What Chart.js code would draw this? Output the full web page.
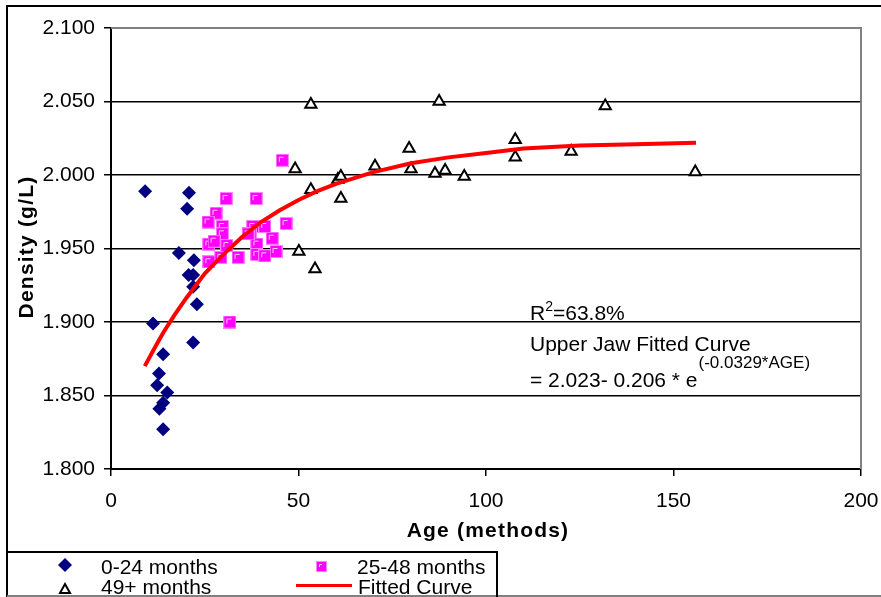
<!DOCTYPE html>
<html>
<head>
<meta charset="utf-8">
<script src="https://cdn.jsdelivr.net/npm/chart.js@4/dist/chart.umd.min.js"></script>
<style>
  html, body { margin: 0; padding: 0; background: #fff; }
  #wrap { width: 881px; height: 597px; }
</style>
</head>
<body>
<div id="wrap"><canvas id="chart" width="881" height="597"></canvas></div>
<script>
// 0-24 months
const youngAge = [9.1, 20.8, 20.3, 18.1, 22.1, 20.7, 21.9, 21.9, 22.9, 11.2, 21.9, 13.9, 12.8, 12.3, 15.0, 13.9, 12.9, 13.9];
const youngDensity = [1.989, 1.988, 1.977, 1.947, 1.942, 1.932, 1.932, 1.924, 1.912, 1.899, 1.886, 1.878, 1.865, 1.857, 1.852, 1.845, 1.841, 1.827];

// 25-48 months
const midAge = [45.7, 30.7, 38.7, 28.0, 25.9, 29.7, 37.8, 41.0, 46.7, 37.1, 29.7, 43.0, 26.1, 27.5, 30.9, 38.9, 44.0, 38.9, 41.0, 29.3, 33.9, 26.1, 31.7, 36.6];
const midDensity = [2.010, 1.984, 1.984, 1.974, 1.968, 1.965, 1.965, 1.965, 1.967, 1.960, 1.960, 1.957, 1.953, 1.955, 1.952, 1.953, 1.948, 1.946, 1.945, 1.944, 1.944, 1.941, 1.900, 1.960];

// 49+ months
const oldAge = [53.3, 87.5, 49.1, 53.3, 60.5, 61.3, 61.3, 70.4, 79.5, 80.0, 86.4, 89.1, 94.2, 107.8, 107.8, 50.1, 54.4, 131.8, 122.7, 155.8];
const oldDensity = [2.048, 2.050, 2.004, 1.990, 1.997, 1.999, 1.984, 2.006, 2.018, 2.004, 2.001, 2.003, 1.999, 2.024, 2.012, 1.948, 1.936, 2.047, 2.016, 2.002];

// fitted curve
const curveAge = [9, 12, 14, 17, 20, 25, 30, 35, 40, 45, 50, 55, 60, 70, 80, 90, 100, 110, 125, 140, 156];
const curveDensity = [1.870, 1.884, 1.893, 1.905, 1.916, 1.933, 1.946, 1.958, 1.968, 1.976, 1.983, 1.989, 1.994, 2.002, 2.008, 2.012, 2.015, 2.018, 2.020, 2.021, 2.022];

const xTickValues = [0, 50, 100, 150, 200];
const yTickValues = [1.8, 1.85, 1.9, 1.95, 2.0, 2.05, 2.1];

const font = '"Liberation Sans", Arial, sans-serif';

function toPoints(xs, ys) {
  return xs.map((x, i) => ({ x: x, y: ys[i] }));
}

// square marker with the little white corner highlight
function makeSquare(size) {
  const c = document.createElement("canvas");
  c.width = size;
  c.height = size;
  const g = c.getContext("2d");
  g.fillStyle = "#ff00ff";
  g.fillRect(0, 0, size, size);
  g.strokeStyle = "#ff80ff";
  g.lineWidth = 1;
  g.strokeRect(0.5, 0.5, size - 1, size - 1);
  g.strokeStyle = "#ffd0ff";
  g.beginPath();
  g.moveTo(3.5, size - 5);
  g.lineTo(3.5, 3.5);
  g.lineTo(size - 5, 3.5);
  g.stroke();
  return c;
}
const squareBig = makeSquare(13);
const squareSmall = makeSquare(11);

function noOverhang(s) {
  s.paddingLeft = 0;
  s.paddingRight = 0;
  s.paddingTop = 0;
  s.paddingBottom = 0;
}

const frame = {
  id: "frame",
  beforeDraw(chart) {
    const ctx = chart.ctx;
    ctx.save();
    ctx.fillStyle = "#fff";
    ctx.fillRect(0, 0, chart.width, chart.height);
    ctx.restore();
  },
  afterDraw(chart) {
    const ctx = chart.ctx;
    const area = chart.chartArea;
    ctx.save();

    // plot border (top + right), grey
    ctx.strokeStyle = "#808080";
    ctx.lineWidth = 2;
    ctx.beginPath();
    ctx.moveTo(area.left, area.top);
    ctx.lineTo(area.right, area.top);
    ctx.lineTo(area.right, area.bottom);
    ctx.stroke();

    // outer frame
    ctx.strokeStyle = "#000";
    ctx.lineWidth = 2;
    ctx.beginPath();
    ctx.moveTo(7, 598);
    ctx.lineTo(7, 6);
    ctx.lineTo(884, 6);
    ctx.stroke();
    ctx.strokeStyle = "#808080";
    ctx.beginPath();
    ctx.moveTo(7, 596);
    ctx.lineTo(884, 596);
    ctx.stroke();

    // axis titles
    ctx.fillStyle = "#000";
    ctx.font = "bold 21px " + font;
    ctx.letterSpacing = "1.2px";
    ctx.textAlign = "center";
    ctx.textBaseline = "middle";
    ctx.fillText("Age (methods)", 488, 531);
    ctx.save();
    ctx.translate(27, 247);
    ctx.rotate(-Math.PI / 2);
    ctx.fillText("Density (g/L)", 0, 0);
    ctx.restore();
    ctx.letterSpacing = "0px";

    // fit annotation
    ctx.font = "21px " + font;
    ctx.textAlign = "left";
    ctx.textBaseline = "alphabetic";
    ctx.fillText("R", 530, 320);
    let w = ctx.measureText("R").width;
    ctx.font = "14px " + font;
    ctx.fillText("2", 530 + w, 311);
    let w2 = ctx.measureText("2").width;
    ctx.font = "21px " + font;
    ctx.fillText("=63.8%", 530 + w + w2, 320);
    ctx.fillText("Upper Jaw Fitted Curve", 530, 351);
    const eq = "= 2.023- 0.206 * e";
    ctx.fillText(eq, 530, 387);
    w = ctx.measureText(eq).width;
    ctx.font = "17px " + font;
    ctx.fillText("(-0.0329*AGE)", 530 + w + 1, 368);

    // legend box
    ctx.strokeStyle = "#000";
    ctx.lineWidth = 2;
    ctx.beginPath();
    ctx.moveTo(7, 552);
    ctx.lineTo(497, 552);
    ctx.lineTo(497, 600);
    ctx.stroke();

    ctx.fillStyle = "#000080";
    ctx.beginPath();
    ctx.moveTo(65, 558); ctx.lineTo(72, 565); ctx.lineTo(65, 572); ctx.lineTo(58, 565);
    ctx.closePath();
    ctx.fill();

    ctx.drawImage(squareSmall, 316, 561);

    ctx.strokeStyle = "#000";
    ctx.lineWidth = 2;
    ctx.beginPath();
    ctx.moveTo(65, 584); ctx.lineTo(70, 593); ctx.lineTo(60, 593);
    ctx.closePath();
    ctx.stroke();

    ctx.strokeStyle = "#ff0000";
    ctx.lineWidth = 3;
    ctx.beginPath();
    ctx.moveTo(296, 585.5);
    ctx.lineTo(352, 585.5);
    ctx.stroke();

    ctx.fillStyle = "#000";
    ctx.font = "21px " + font;
    ctx.fillText("0-24 months", 101, 574);
    ctx.fillText("25-48 months", 357, 574);
    ctx.fillText("49+ months", 101, 594);
    ctx.fillText("Fitted Curve", 358, 594);

    ctx.restore();
  }
};

new Chart(document.getElementById("chart"), {
  type: "scatter",
  data: {
    datasets: [
      {
        label: "0-24 months",
        data: toPoints(youngAge, youngDensity),
        pointStyle: "rectRot",
        pointRadius: 7,
        pointBackgroundColor: "#000080",
        pointBorderColor: "#000080",
        pointBorderWidth: 0,
        order: 2
      },
      {
        label: "25-48 months",
        data: toPoints(midAge, midDensity),
        pointStyle: squareBig,
        pointRadius: 6,
        order: 3
      },
      {
        label: "49+ months",
        data: toPoints(oldAge, oldDensity),
        pointStyle: "triangle",
        pointRadius: 6.5,
        pointBackgroundColor: "#ffffff",
        pointBorderColor: "#000000",
        pointBorderWidth: 2,
        order: 1
      },
      {
        label: "Fitted Curve",
        type: "line",
        data: toPoints(curveAge, curveDensity),
        borderColor: "#ff0000",
        borderWidth: 4,
        pointRadius: 0,
        tension: 0,
        fill: false,
        order: 0
      }
    ]
  },
  options: {
    responsive: false,
    animation: false,
    devicePixelRatio: 1,
    layout: { padding: { top: 28, right: 20, left: 0, bottom: 0 } },
    plugins: {
      legend: { display: false },
      tooltip: { enabled: false }
    },
    scales: {
      x: {
        type: "linear",
        min: 0,
        max: 200,
        afterFit: (s) => { s.height = 128; noOverhang(s); },
        afterBuildTicks: (s) => { s.ticks = xTickValues.map((v) => ({ value: v })); },
        grid: { drawOnChartArea: false, drawTicks: true, tickLength: 7, color: "#000", lineWidth: 1.5 },
        border: { color: "#000", width: 2 },
        ticks: { padding: 13, color: "#000", font: { family: font, size: 21 }, maxRotation: 0 }
      },
      y: {
        type: "linear",
        min: 1.8,
        max: 2.1,
        afterFit: (s) => { s.width = 111; noOverhang(s); },
        afterBuildTicks: (s) => { s.ticks = yTickValues.map((v) => ({ value: v })); },
        grid: { drawTicks: true, tickLength: 7, color: "#000", lineWidth: 1.5 },
        border: { color: "#000", width: 2 },
        ticks: {
          padding: 9,
          color: "#000",
          font: { family: font, size: 21 },
          callback: (v) => Number(v).toFixed(3)
        }
      }
    }
  },
  plugins: [frame]
});
</script>
</body>
</html>
